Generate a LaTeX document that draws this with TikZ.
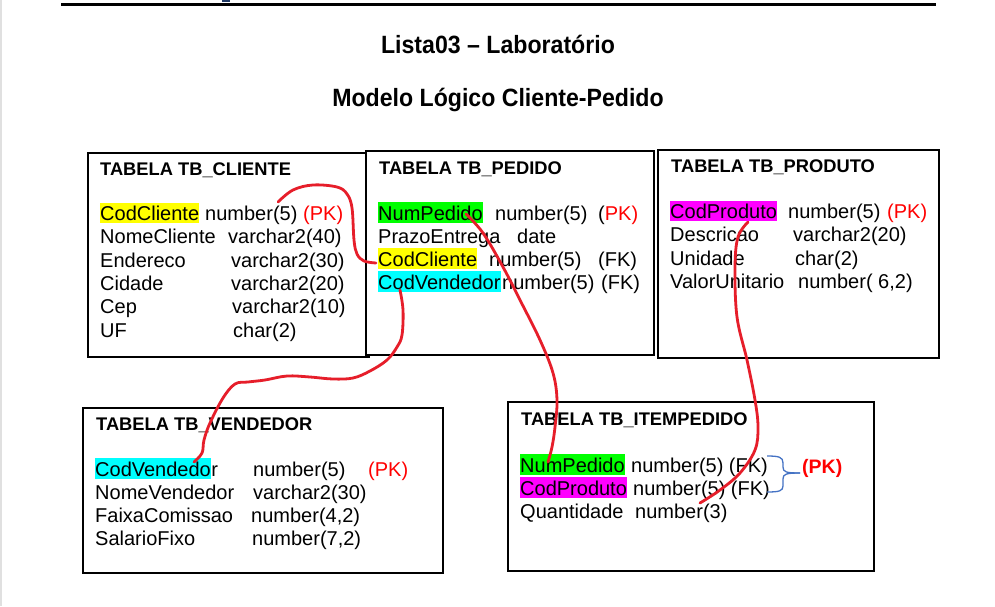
\documentclass[tikz,border=0pt]{standalone}
\usepackage{fontspec}
\setmainfont{Liberation Sans}
\newcommand\bodysz{\fontsize{20}{23}\selectfont}
\newcommand\ttlsz{\fontsize{18.3}{21}\selectfont\bfseries}
\newcommand\headsz{\fontsize{25}{28}\selectfont\bfseries}
\newcommand\ipksz{\fontsize{19.5}{22}\selectfont\bfseries}
\definecolor{hlyellow}{RGB}{255,255,0}
\definecolor{hlgreen}{RGB}{0,255,0}
\definecolor{hlcyan}{RGB}{0,255,255}
\definecolor{hlmagenta}{RGB}{255,0,255}
\definecolor{pkred}{RGB}{255,0,0}
\definecolor{linkred}{RGB}{230,30,42}
\definecolor{braceblue}{RGB}{68,114,196}
\definecolor{navyfrag}{RGB}{31,56,100}
\begin{document}
\begin{tikzpicture}[x=1pt,y=-1pt,
  tbox/.style={draw=black, line width=1.5pt, fill=white, anchor=north west, inner sep=0pt},
  txt/.style={anchor=base west, inner sep=0pt, font=\bodysz},
  ttl/.style={anchor=base west, inner sep=0pt, font=\ttlsz},
  hl/.style={txt, text height=18pt, text depth=2.5pt},
  pk/.style={txt, text=pkred},
  head/.style={anchor=base, inner sep=0pt, font=\headsz, xscale=0.925},
  fkline/.style={draw=linkred, line width=2.8pt, line cap=round, line join=round},
  brc/.style={draw=braceblue, line width=1.3pt}]
\useasboundingbox (0,0) rectangle (995,606);
\fill[white] (0,0) rectangle (995,606);
\fill[black!12] (0,0) rectangle (1.8,606);
\fill[navyfrag] (222,0) rectangle (230,2);
\coordinate (tl1) at (61,4.5);
\coordinate (tl2) at (936,4.5);
\draw[line width=2.8pt] (tl1) -- (tl2);

% headings
\node[head] (h1) at (498,53) {Lista03 – Laboratório};
\node[head] (h2) at (498,106.5) {Modelo Lógico Cliente-Pedido};

% boxes
\node[tbox, minimum width=281pt, minimum height=204pt] (cliente) at (87,152) {};
\node[tbox, minimum width=288pt, minimum height=204pt] (pedido) at (365,150) {};
\node[tbox, minimum width=281pt, minimum height=208pt] (produto) at (657,149) {};
\node[tbox, minimum width=360pt, minimum height=165pt] (vendedor) at (82,407) {};
\node[tbox, minimum width=366pt, minimum height=169pt] (item) at (507,401) {};

% TB_CLIENTE
\node[ttl] (c0) at (100,175.5) {TABELA TB\_CLIENTE};
\node[hl, fill=hlyellow] (c1n) at (100,220.5) {CodCliente};
\node[txt] (c1t) at (205,220.5) {number(5)};
\node[pk] (c1k) at (303,220.5) {(PK)};
\node[txt] (c2n) at (100,243.8) {NomeCliente};
\node[txt] (c2t) at (228,243.8) {varchar2(40)};
\node[txt] (c3n) at (100,267.1) {Endereco};
\node[txt] (c3t) at (231,267.1) {varchar2(30)};
\node[txt] (c4n) at (100,290.4) {Cidade};
\node[txt] (c4t) at (231,290.4) {varchar2(20)};
\node[txt] (c5n) at (100,313.7) {Cep};
\node[txt] (c5t) at (232,313.7) {varchar2(10)};
\node[txt] (c6n) at (100,337) {UF};
\node[txt] (c6t) at (233,337) {char(2)};

% TB_PEDIDO
\node[ttl] (p0) at (379,174.5) {TABELA TB\_PEDIDO};
\node[hl, fill=hlgreen] (p1n) at (378,220) {NumPedido};
\node[txt] (p1t) at (495,220) {number(5)};
\node[txt] (p1k) at (598,220) {(\textcolor{pkred}{PK)}};
\node[txt] (p2n) at (378,243) {PrazoEntrega};
\node[txt] (p2t) at (517,243) {date};
\node[hl, fill=hlyellow] (p3n) at (378,266) {CodCliente};
\node[txt] (p3t) at (489,266) {number(5)};
\node[txt] (p3k) at (598,266) {(FK)};
\node[hl, fill=hlcyan] (p4n) at (378,289) {CodVendedor};
\node[txt] (p4t) at (502,289) {number(5)};
\node[txt] (p4k) at (601,289) {(FK)};

% TB_PRODUTO
\node[ttl] (d0) at (671,172.5) {TABELA TB\_PRODUTO};
\node[hl, fill=hlmagenta] (d1n) at (670,218.5) {CodProduto};
\node[txt] (d1t) at (788,218.5) {number(5)};
\node[pk] (d1k) at (887,218.5) {(PK)};
\node[txt] (d2n) at (670,241.8) {Descricao};
\node[txt] (d2t) at (793,241.8) {varchar2(20)};
\node[txt] (d3n) at (670,265.1) {Unidade};
\node[txt] (d3t) at (795,265.1) {char(2)};
\node[txt] (d4n) at (670,288.4) {ValorUnitario};
\node[txt] (d4t) at (798,288.4) {number( 6,2)};

% TB_VENDEDOR
\node[ttl] (v0) at (96,430.5) {TABELA TB\_VENDEDOR};
\node[hl, fill=hlcyan] (v1n) at (95,476) {CodVendedo};
\node[txt] (v1r) at (v1n.base east) {r};
\node[txt] (v1t) at (253,476) {number(5)};
\node[pk] (v1k) at (368,476) {(PK)};
\node[txt] (v2n) at (95,499) {NomeVendedor};
\node[txt] (v2t) at (253,499) {varchar2(30)};
\node[txt] (v3n) at (95,522) {FaixaComissao};
\node[txt] (v3t) at (251,522) {number(4,2)};
\node[txt] (v4n) at (95,545) {SalarioFixo};
\node[txt] (v4t) at (252,545) {number(7,2)};

% TB_ITEMPEDIDO
\node[ttl] (i0) at (521,425.5) {TABELA TB\_ITEMPEDIDO};
\node[hl, fill=hlgreen] (i1n) at (520,472) {NumPedido};
\node[txt] (i1t) at (631,472) {number(5) (FK)};
\node[hl, fill=hlmagenta] (i2n) at (520,495) {CodProduto};
\node[txt] (i2t) at (633,495) {number(5) (FK)};
\node[txt] (i3n) at (520,518) {Quantidade};
\node[txt] (i3t) at (635,518) {number(3)};
\node[anchor=base west, inner sep=0pt, font=\ipksz, text=pkred] (ipk) at (802,473) {(PK)};

% brace
\coordinate (b1) at (767,456);
\coordinate (b2) at (800,473);
\coordinate (b3) at (767,492);
\draw[brc] (b1) .. controls (779,456) and (783,457) .. (783,463) -- (783,467)
  .. controls (783,472) and (786,473) .. (b2);
\draw[brc] (b2) .. controls (786,473) and (783,474) .. (783,479) -- (783,486)
  .. controls (783,491) and (779,492) .. (b3);

% red links
\coordinate (l1a) at (278,202);
\coordinate (l1b) at (376,263);
\draw[fkline] plot[smooth, tension=0.6] coordinates {(l1a) (293,190) (313,185) (337,187) (347,194) (352,208) (354,240) (357,254) (364,261) (l1b)};
\coordinate (l2a) at (400,290);
\coordinate (l2b) at (194,462);
\draw[fkline] plot[smooth, tension=0.6] coordinates {(l2a) (403,310) (402,335) (397,347) (387,360) (370,371) (353,378) (333,379) (310,377) (287,376) (265,380) (248,382) (235,384) (223,398) (210,423) (204,440) (202,453) (l2b)};
\coordinate (l3a) at (466,214);
\coordinate (l3b) at (548,462);
\draw[fkline] plot[smooth, tension=0.6] coordinates {(l3a) (483,233) (503,267) (520,300) (540,340) (553,373) (557,400) (555,427) (552,447) (l3b)};
\coordinate (l4a) at (748,222);
\coordinate (l4b) at (700,503);
\draw[fkline] plot[smooth, tension=0.6] coordinates {(l4a) (738,237) (735,267) (737,317) (747,360) (755,400) (758,427) (755,450) (740,473) (720,490) (l4b)};
\end{tikzpicture}
\end{document}
